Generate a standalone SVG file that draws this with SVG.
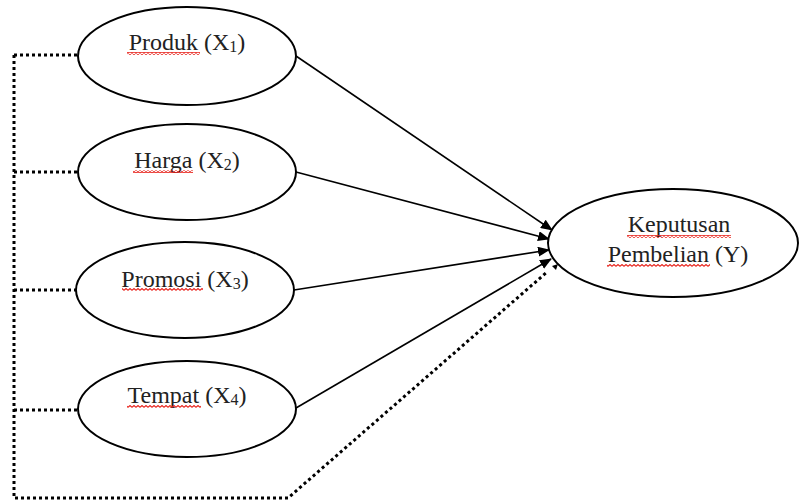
<svg xmlns="http://www.w3.org/2000/svg" width="800" height="504" viewBox="0 0 800 504">
<style>
.node ellipse{fill:#fff;stroke:#000;stroke-width:2}
.lbl{font-family:"Liberation Serif","Times New Roman",serif;font-size:24px;fill:#222;text-anchor:middle}
.sub{font-size:16px}
.solid{stroke:#000;stroke-width:1.6;fill:none;marker-end:url(#ah)}
.dot{stroke:#000;stroke-width:3;fill:none;stroke-dasharray:3 3}
.sq{fill:url(#sqp)}
</style>
<defs>
<marker id="ah" viewBox="0 0 12 10" refX="11" refY="5" markerWidth="12" markerHeight="10" markerUnits="userSpaceOnUse" orient="auto">
<path d="M0,0 L12,5 L0,10 Z" fill="#000"/>
</marker>
<pattern id="sqp" width="4" height="3" patternUnits="userSpaceOnUse">
<path d="M0,2.4 L2,0.6 L4,2.4" stroke="#e8221a" stroke-width="1.2" fill="none"/>
</pattern>
</defs>
<rect width="800" height="504" fill="#fff"/>
<g id="connectors">
<path class="dot" d="M14,55 H78 M14,172 H78 M14,290 H76 M14,410 H78 M14,55 V498 H288 L547,272"/>
<path d="M552,266 L558,264 L556,270 Z" fill="#000"/>
<line class="solid" x1="296" y1="56" x2="552" y2="230"/>
<line class="solid" x1="296" y1="172" x2="549" y2="239"/>
<line class="solid" x1="294" y1="290" x2="549" y2="250"/>
<line class="solid" x1="296" y1="408" x2="551" y2="259"/>
</g>
<g id="x1" class="node">
<ellipse cx="187" cy="56" rx="109" ry="49"/>
<text class="lbl" x="187" y="50">Produk (X<tspan class="sub" dy="2">1</tspan><tspan dy="-2">)</tspan></text>
<rect class="sq" x="127" y="52" width="73" height="3"/>
</g>
<g id="x2" class="node">
<ellipse cx="187" cy="172" rx="109" ry="48"/>
<text class="lbl" x="187" y="168">Harga (X<tspan class="sub" dy="2">2</tspan><tspan dy="-2">)</tspan></text>
<rect class="sq" x="133" y="170" width="60" height="3"/>
</g>
<g id="x3" class="node">
<ellipse cx="185" cy="290" rx="109" ry="48"/>
<text class="lbl" x="185" y="287">Promosi (X<tspan class="sub" dy="2">3</tspan><tspan dy="-2">)</tspan></text>
<rect class="sq" x="122" y="288" width="81" height="3"/>
</g>
<g id="x4" class="node">
<ellipse cx="187" cy="409" rx="109" ry="48"/>
<text class="lbl" x="187" y="403">Tempat (X<tspan class="sub" dy="2">4</tspan><tspan dy="-2">)</tspan></text>
<rect class="sq" x="127" y="405" width="74" height="3"/>
</g>
<g id="y" class="node">
<ellipse cx="673" cy="243" rx="125" ry="54"/>
<text class="lbl" x="679" y="232">Keputusan</text>
<text class="lbl" x="678" y="262">Pembelian (Y)</text>
<rect class="sq" x="627" y="235" width="104" height="3"/>
<rect class="sq" x="607" y="264" width="103" height="3"/>
</g>
</svg>
